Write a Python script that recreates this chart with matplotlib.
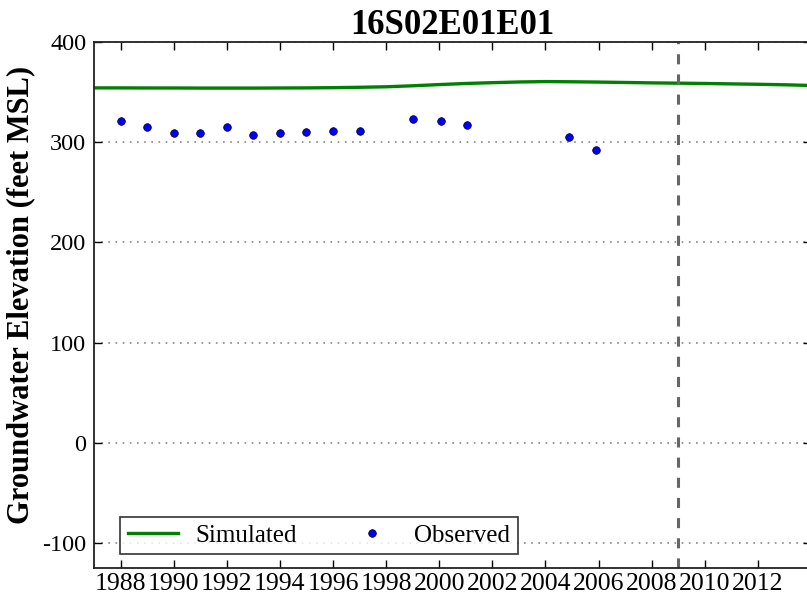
import matplotlib
matplotlib.use('Agg')
import matplotlib.pyplot as plt

# Observed water levels (decimal year, feet MSL)
obs_years = [1988.0, 1989.0, 1990.0, 1991.0, 1992.0, 1993.0, 1994.0, 1995.0,
             1996.0, 1997.0, 1999.0, 2000.05, 2001.05, 2004.9, 2005.9]
obs_elev = [320.8, 315.1, 309.0, 309.0, 315.1, 307.3, 308.7, 310.3,
            311.4, 311.4, 323.5, 321.4, 317.4, 304.8, 292.5]

# Simulated water levels
sim_years = [1987, 1988, 1989, 1990, 1991, 1992, 1993, 1994, 1995, 1996, 1997,
             1998, 1999, 2000, 2001, 2002, 2003, 2004, 2005, 2006, 2007, 2008,
             2009, 2010, 2011, 2012, 2013, 2014]
sim_elev = [354.2, 354.2, 354.1, 354.1, 354.0, 354.0, 354.0, 354.1, 354.2, 354.4,
            354.8, 355.3, 356.3, 357.5, 358.6, 359.4, 360.1, 360.5, 360.3, 360.0,
            359.6, 359.2, 358.9, 358.6, 358.2, 357.8, 357.3, 356.6]

model_end = 2009.0
year_ticks = list(range(1988, 2014, 2))
elev_ticks = [-100, 0, 100, 200, 300, 400]


def main():
    plt.rcParams['font.family'] = ['Liberation Serif', 'DejaVu Serif']

    fig = plt.figure(figsize=(8.07, 5.98), dpi=100)
    ax = fig.add_axes([94 / 807, 30 / 598, 717 / 807, 526 / 598])

    ax.plot(sim_years, sim_elev, color='green', linewidth=2.4, label='Simulated')
    ax.plot(obs_years, obs_elev, linestyle='none', marker='o', markersize=5.5,
            markerfacecolor='blue', markeredgecolor='black', markeredgewidth=0.5,
            label='Observed')
    ax.axvline(model_end, color='#666666', linestyle='--', linewidth=2.2,
               dashes=(3.3, 3.3))

    ax.set_xlim(1987, 2014)
    ax.set_ylim(-125, 400)
    ax.set_xticks(year_ticks)
    ax.set_xticklabels([str(y) for y in year_ticks])
    ax.set_yticks(elev_ticks)
    ax.set_yticklabels([str(v) for v in elev_ticks])
    ax.tick_params(direction='in', top=True, right=True, labelsize=17.5,
                   length=6, width=1)
    ax.tick_params(axis='x', pad=3.5, labelsize=18.5)
    ax.tick_params(axis='y', pad=5.5)

    ax.yaxis.grid(True, linestyle=(0, (1, 3.3)), color='#888888', linewidth=1.2)
    for s in ax.spines.values():
        s.set_linewidth(1.3)
        s.set_color('#222222')

    ax.set_title('16S02E01E01', fontsize=25, fontweight='bold', pad=6)
    ax.set_ylabel('Groundwater Elevation (feet MSL)', fontsize=22,
                  fontweight='bold')
    # right edge of the rotated label sits ~59 px left of the axes
    ax.yaxis.set_label_coords(-0.082, 0.52)

    leg = ax.legend(loc='lower left', bbox_to_anchor=(26 / 717, 14 / 526),
                    borderaxespad=0, ncol=2, fontsize=18, frameon=True,
                    fancybox=False, columnspacing=2.0, handlelength=2.0,
                    handletextpad=0.7, numpoints=1, borderpad=0.3)
    leg.get_frame().set_edgecolor('black')
    leg.get_frame().set_linewidth(1.2)

    fig.savefig('out.png', dpi=100)


if __name__ == '__main__':
    main()
